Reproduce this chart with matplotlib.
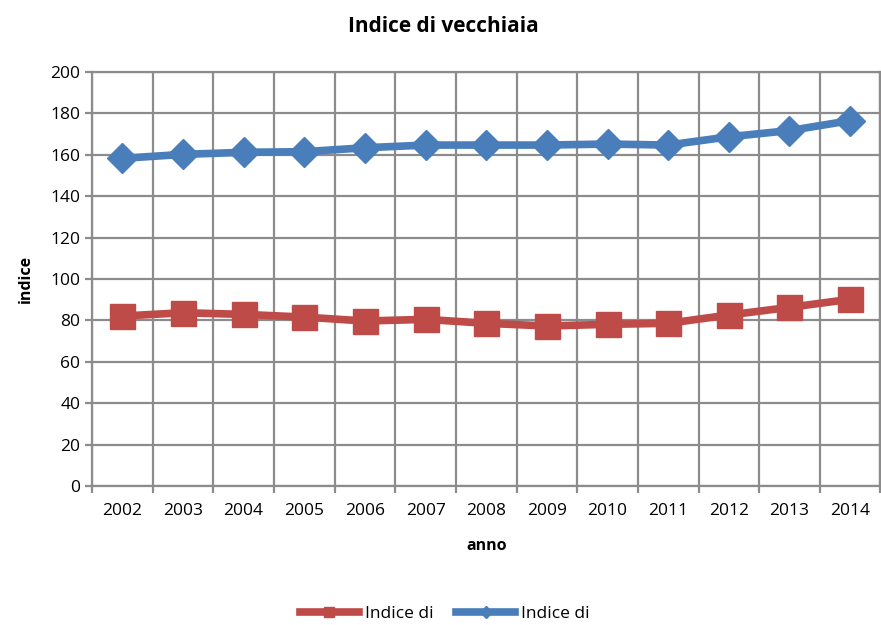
import matplotlib.pyplot as plt
import numpy as np

plt.rcParams['font.family'] = ['Open Sans', 'DejaVu Sans']

anni = ["2002", "2003", "2004", "2005", "2006", "2007", "2008",
        "2009", "2010", "2011", "2012", "2013", "2014"]
indice_rosso = [82.1, 83.7, 82.9, 81.6, 79.7, 80.5, 78.6,
                77.3, 78.1, 78.6, 82.6, 86.3, 90.2]
indice_blu = [158.3, 160.2, 161.2, 161.5, 163.4, 164.7, 164.7,
              164.7, 165.2, 164.7, 168.7, 171.7, 176.5]
etichette = ["Indice di", "Indice di"]

fig = plt.figure(figsize=(8.81, 6.25), dpi=100)
ax = fig.add_axes([0.1044, 0.2224, 0.895, 0.6624])

x = np.arange(len(anni))
ax.plot(x, indice_rosso, color='#BE4B48', lw=5.5, marker='s', ms=18,
        markeredgecolor='#BE4B48', label=etichette[0], zorder=3)
ax.plot(x, indice_blu, color='#4A7EBB', lw=5.5, marker='D', ms=15,
        markeredgecolor='#4A7EBB', label=etichette[1], zorder=3)

ax.set_xlim(-0.5, len(anni) - 0.5)
ax.set_ylim(0, 200)
ax.set_yticks(np.arange(0, 201, 20))
ax.set_xticks(x)
ax.set_xticklabels(anni)
ax.set_xticks(np.arange(-0.5, len(anni), 1), minor=True)

ax.grid(True, which='minor', axis='x', color='#8c8c8c', lw=1.6)
ax.grid(True, which='major', axis='y', color='#8c8c8c', lw=1.6)
ax.set_axisbelow(True)
for s in ax.spines.values():
    s.set_color('#8c8c8c')
    s.set_linewidth(1.6)

ax.tick_params(axis='x', which='major', length=0, labelsize=12.5, pad=12)
ax.tick_params(axis='x', which='minor', length=5, color='#8c8c8c', width=1.6)
ax.tick_params(axis='y', length=5, color='#8c8c8c', width=1.6, labelsize=12.5)

fig.suptitle("Indice di vecchiaia", fontsize=15, fontweight='bold',
             x=0.503, y=0.975)
ax.set_xlabel("anno", fontsize=11.5, fontweight='bold', labelpad=14)
ax.set_ylabel("indice", fontsize=11.5, fontweight='bold', labelpad=12)

fig.legend(loc='lower center', bbox_to_anchor=(0.505, -0.02), ncol=2,
           frameon=False, fontsize=12.5, handlelength=3.4, markerscale=0.4,
           columnspacing=1.3, handletextpad=0.35)

fig.savefig("out.png", dpi=100)
